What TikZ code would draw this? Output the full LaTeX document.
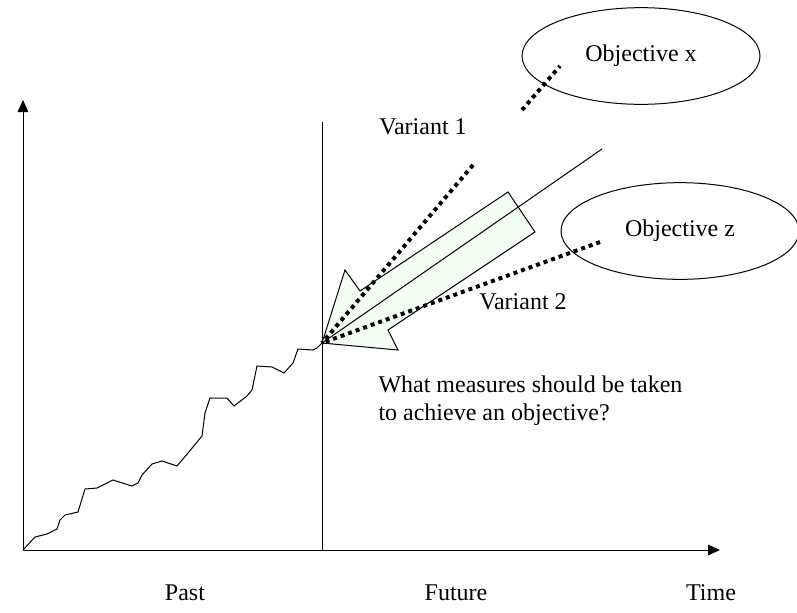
\documentclass[tikz,border=0pt]{standalone}
\usepackage{fontspec}
\setmainfont{Liberation Serif}
\usetikzlibrary{arrows.meta,shapes.geometric}

\tikzset{
  axis/.style={line width=0.75pt, -{Triangle[length=9pt,width=8pt]}},
  dotline/.style={line width=3pt, dash pattern=on 3pt off 3pt},
  goal/.style={ellipse, draw, line width=0.75pt, minimum width=178.5pt, minimum height=72.5pt},
  lbl/.style={font=\fontsize{18}{21}\selectfont, inner sep=0pt},
}

\begin{document}
\begin{tikzpicture}[x=0.75pt, y=-0.75pt, line width=0.75pt]
    \useasboundingbox (0,0) rectangle (797,612);

    % axes and the present
    \coordinate (orig) at (23,550);
    \coordinate (now) at (322,343);
    \draw[axis] (orig) -- (23,100);
    \draw[axis] (orig) -- (720,550);
    \draw (322,122) -- (322,550);

    % history so far
    \draw (orig) -- (35,537) -- (47,534) -- (57,529) -- (60,520) -- (65,515)
        -- (78,512) -- (85,489) -- (97,488) -- (113,480) -- (132,486) -- (138,483)
        -- (142,475) -- (152,464) -- (162,461) -- (177,466) -- (188,453) -- (202,436)
        -- (205,413) -- (210,398) -- (227,398) -- (234,406) -- (247,396) -- (252,390)
        -- (257,366) -- (272,367) -- (284,373) -- (293,363) -- (298,349) -- (313,350)
        -- (317,348) -- (now);

    % objectives
    \node[goal, lbl] (objx) at (641,56) {Objective x};
    \node[goal, lbl] (objz) at (680,231) {Objective z};

    % big arrow back to the present
    \draw[fill=green!5] (now) -- (345,270) -- (360,291) -- (508,192) -- (535,232)
        -- (388,330) -- (398,350) -- cycle;
    \coordinate (far) at (602,149);
    \draw (now) -- (far);

    % variants
    \coordinate (v1) at (473,165);
    \coordinate (v2) at (600,242);
    \coordinate (xa) at (522,110);
    \coordinate (xb) at (560,66);
    \draw[dotline] (v1) -- (now);
    \draw[dotline] (v2) -- (now);
    \draw[dotline] (xa) -- (xb);

    \node[lbl] (var1) at (423,127) {Variant 1};
    \node[lbl] (var2) at (523,302) {Variant 2};
    \node[lbl, align=left, anchor=west] (quest) at (378,401)
        {What measures should be taken\\to achieve an objective?};

    \node[lbl] (past) at (185,593) {Past};
    \node[lbl] (future) at (456,593) {Future};
    \node[lbl] (time) at (711,593) {Time};
\end{tikzpicture}
\end{document}
